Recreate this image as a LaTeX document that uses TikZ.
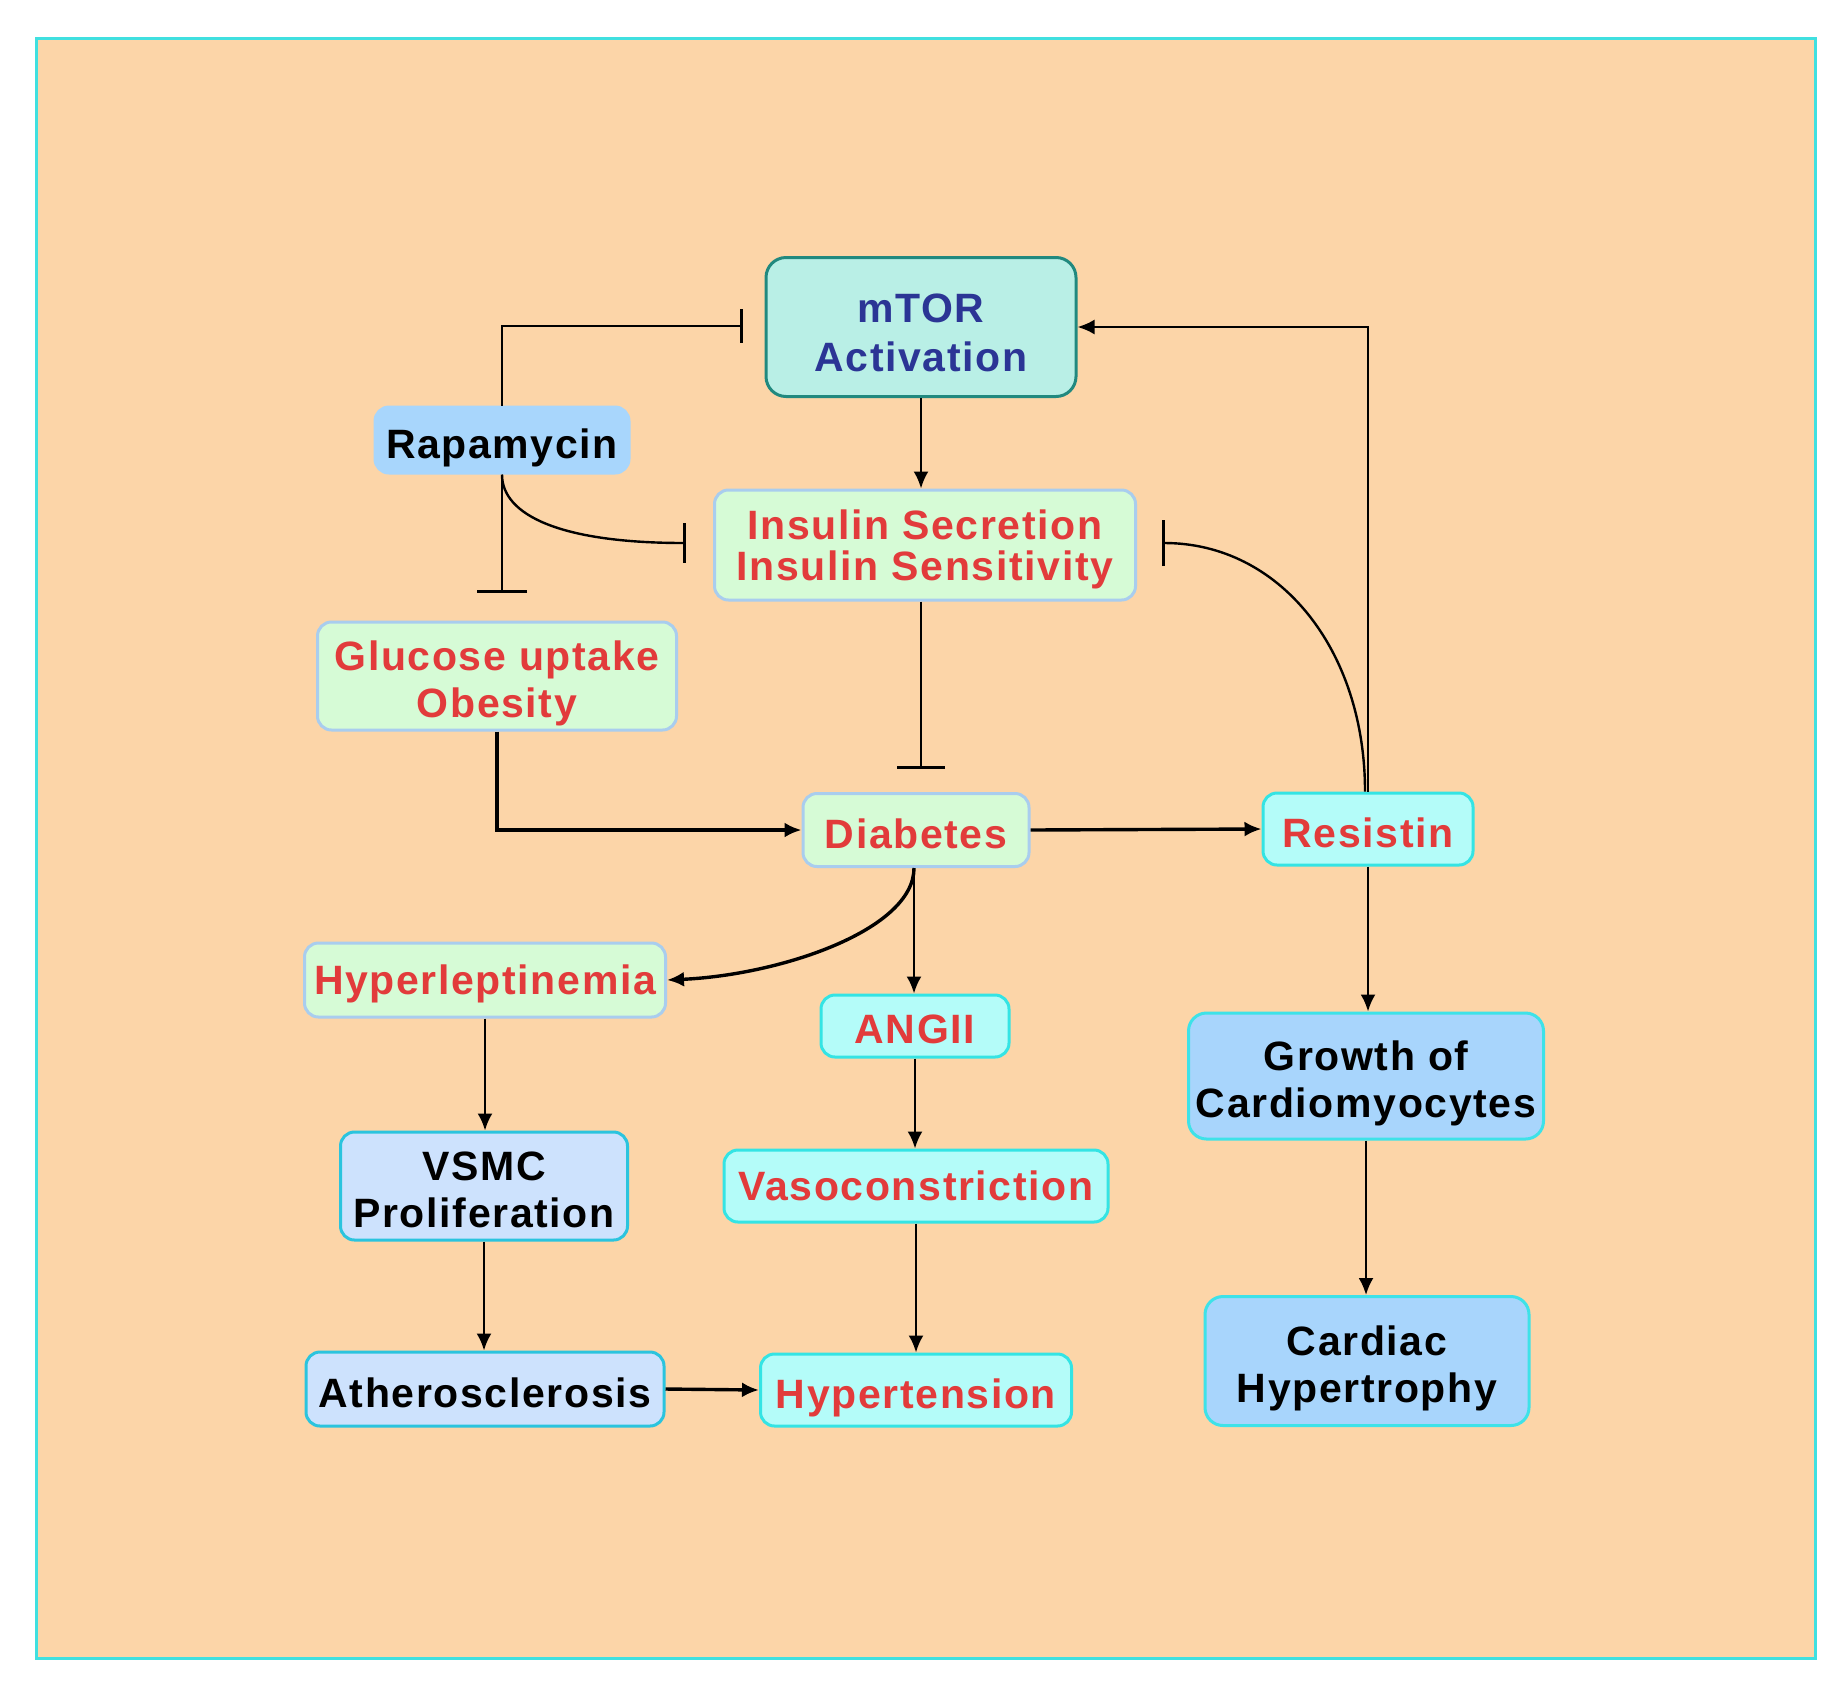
\documentclass[tikz,border=0pt]{standalone}
\usepackage{fontspec}
\newfontfamily\lab[LetterSpace=4]{Liberation Sans}
\usetikzlibrary{arrows.meta}
\newcommand{\lowtxt}[1]{\raisebox{-1.75pt}[\height][\depth]{#1}}
\newcommand{\lowtxtb}[1]{\raisebox{-2.8pt}[\height][\depth]{#1}}
\definecolor{bgpeach}{RGB}{252,213,168}
\definecolor{framecyan}{RGB}{64,224,224}
\definecolor{mtorfill}{RGB}{185,239,230}
\definecolor{mtordraw}{RGB}{33,137,127}
\definecolor{mtortext}{RGB}{43,53,149}
\definecolor{rapfill}{RGB}{168,214,252}
\definecolor{grnfill}{RGB}{214,251,214}
\definecolor{grndraw}{RGB}{169,205,238}
\definecolor{redtext}{RGB}{226,59,59}
\definecolor{cyfill}{RGB}{180,252,249}
\definecolor{cydraw}{RGB}{52,228,228}
\definecolor{bluefill}{RGB}{168,213,252}
\definecolor{bluedraw}{RGB}{62,226,232}
\definecolor{perfill}{RGB}{205,226,253}
\definecolor{perdraw}{RGB}{43,196,222}
\tikzset{
  basebox/.style={rounded corners=7pt, line width=1.5pt, align=center, inner sep=0pt, text depth=0pt,
    font=\lab\bfseries\fontsize{20.5}{23.5}\selectfont},
  mtorbox/.style={basebox, rounded corners=10pt, fill=mtorfill, draw=mtordraw, text=mtortext,
    font=\lab\bfseries\fontsize{20.5}{24.5}\selectfont},
  rapbox/.style={basebox, fill=rapfill, draw=rapfill, text=black},
  grnbox/.style={basebox, fill=grnfill, draw=grndraw, text=redtext},
  cybox/.style={basebox, fill=cyfill, draw=cydraw, text=redtext},
  bluebox/.style={basebox, rounded corners=9pt, fill=bluefill, draw=bluedraw, text=black},
  perbox/.style={basebox, fill=perfill, draw=perdraw, text=black},
  act/.style={line width=1.2pt, -{Latex[length=8.5pt,width=7.5pt]}},
  thickact/.style={line width=1.7pt, -{Latex[length=8.5pt,width=7.5pt]}},
  inh/.style={line width=1.2pt, -{Bar[width=#1,line width=1.5pt]}},
}
\begin{document}
\begin{tikzpicture}[x=0.5pt,y=-0.5pt]
\useasboundingbox (0,0) rectangle (1840,1692);
\fill[white] (0,0) rectangle (1840,1692);
\draw[fill=bgpeach, draw=framecyan, line width=1.5pt] (36,38) rectangle (1815,1658);

\node[mtorbox, minimum width=155pt, minimum height=69.5pt] (mtor) at (921,327) {\lowtxtb{mTOR}\\\lowtxtb{Activation}};
\node[rapbox, minimum width=127pt, minimum height=33pt] (rap) at (502,440) {\lowtxt{Rapamycin}};
\node[grnbox, minimum width=210.5pt, minimum height=55pt, font=\lab\bfseries\fontsize{20.5}{20.5}\selectfont] (ins) at (925,545) {Insulin Secretion\\Insulin Sensitivity};
\node[grnbox, minimum width=179.5pt, minimum height=54pt] (glu) at (497,676) {\lowtxt{Glucose uptake}\\\lowtxt{Obesity}};
\node[grnbox, minimum width=113pt, minimum height=36.5pt] (dia) at (916,830) {\lowtxt{Diabetes}};
\node[cybox, minimum width=105pt, minimum height=36pt] (res) at (1368,829) {\lowtxt{Resistin}};
\node[grnbox, minimum width=180.5pt, minimum height=37pt] (hyl) at (485,980) {Hyperleptinemia};
\node[cybox, minimum width=94pt, minimum height=31pt] (ang) at (915,1026) {\lowtxt{ANGII}};
\node[bluebox, minimum width=177.5pt, minimum height=63pt] (gro) at (1366,1076) {\lowtxt{Growth of}\\\lowtxt{Cardiomyocytes}};
\node[perbox, minimum width=143.5pt, minimum height=54pt] (vsmc) at (484,1186) {\lowtxt{VSMC}\\\lowtxt{Proliferation}};
\node[cybox, minimum width=192pt, minimum height=36pt] (vaso) at (916,1186) {Vasoconstriction};
\node[perbox, minimum width=179pt, minimum height=37pt] (ath) at (485,1389) {\lowtxt{Atherosclerosis}};
\node[cybox, minimum width=155.5pt, minimum height=36pt] (hyt) at (916,1390) {\lowtxt{Hypertension}};
\node[bluebox, minimum width=162pt, minimum height=64.5pt] (car) at (1367,1361) {\lowtxt{Cardiac}\\\lowtxt{Hypertrophy}};

\coordinate (cm) at (743,326);
\coordinate (cg) at (502,593);
\coordinate (ci) at (686,543);
\coordinate (cd) at (921,769);
\coordinate (cr) at (1162,543);
\coordinate (cx) at (921,0);

% activation arrows
\draw[act] (mtor.south -| cx) -- (ins.north -| cx);
\draw[act] (res.north) |- (mtor.east);
\draw[thickact] (glu.south) |- (dia.west);
\draw[thickact] (dia.east) -- (res.west);
\draw[thickact] ([xshift=-1pt]dia.south) .. controls (914,930) and (780,975) .. (hyl.east);
\draw[act] ([xshift=-1pt]dia.south) -- ([xshift=-1pt]dia.south |- ang.north);
\draw[act] (res.south) -- (res.south |- gro.north);
\draw[act] (hyl.south) -- (hyl.south |- vsmc.north);
\draw[act] (ang.south) -- (ang.south |- vaso.north);
\draw[act] (vsmc.south) -- (vsmc.south |- ath.north);
\draw[act] (vaso.south) -- (vaso.south |- hyt.north);
\draw[act] (gro.south) -- (gro.south |- car.north);
\draw[thickact] (ath.east) -- (hyt.west);

% inhibition
\draw[inh=17pt] (rap.north) |- (cm);
\draw[inh=25pt] (rap.south) -- (cg);
\draw[inh=20pt] (rap.south) .. controls (502,515) and (560,543) .. (ci);
\draw[inh=24pt] (cd |- ins.south) -- (cd);
\draw[inh=23pt] ([xshift=-1.5pt]res.north) .. controls (1365,650) and (1280,543) .. (cr);
\end{tikzpicture}
\end{document}
